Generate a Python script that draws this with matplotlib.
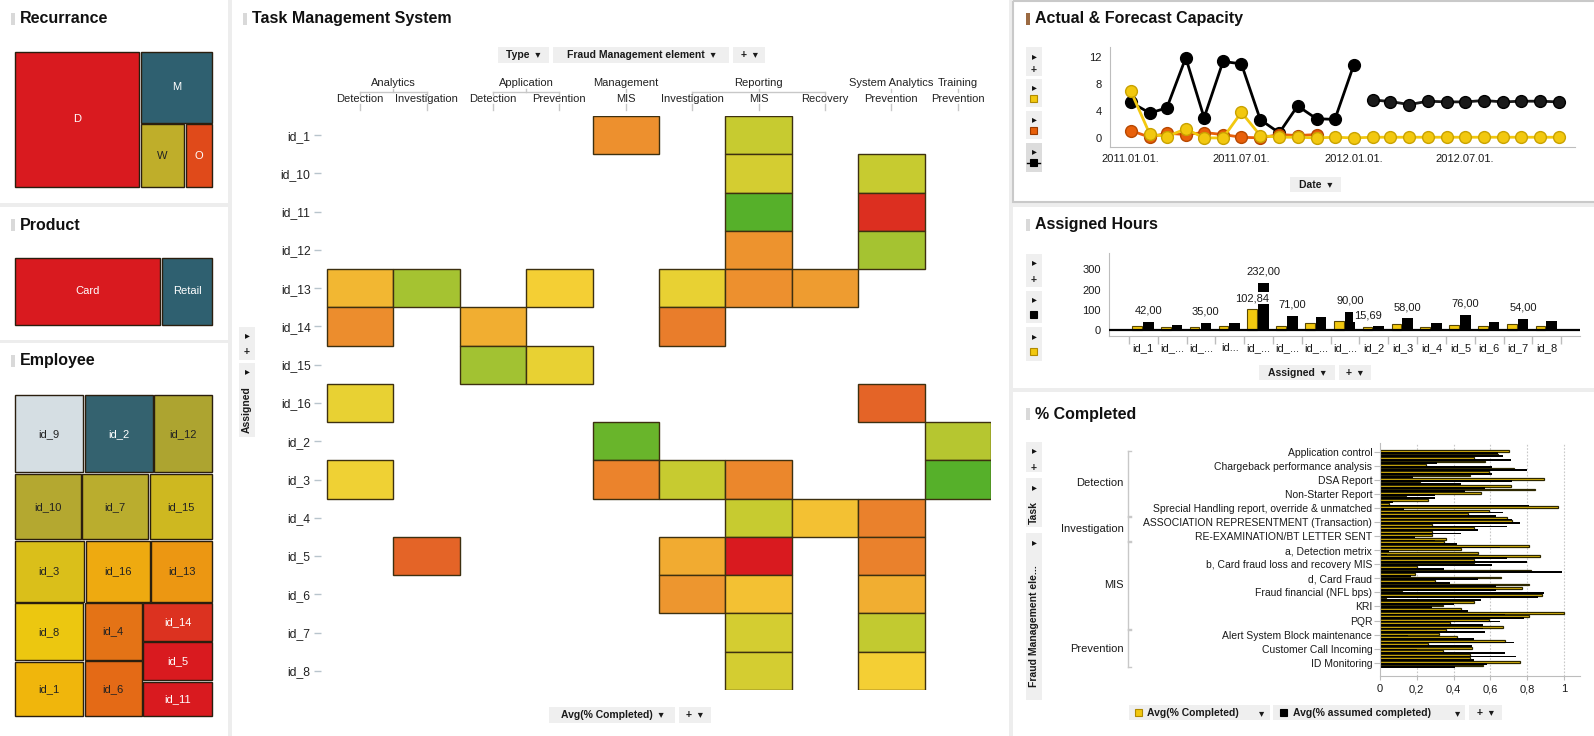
import numpy as np
import matplotlib
matplotlib.use('Agg')
import matplotlib.pyplot as plt
from matplotlib.patches import Rectangle
from matplotlib.colors import LinearSegmentedColormap
import matplotlib.transforms as mtransforms
import matplotlib.dates as mdates
from datetime import datetime

plt.rcParams['font.family'] = ['Liberation Sans', 'DejaVu Sans']

# ------------------------------------------------------------------ data
recur_labels = ['D', 'M', 'W', 'O']
recur_values = [17.0, 5.2, 2.85, 1.8]
recur_colors = ['#D91A1F', '#2F6070', '#BFAE2A', '#E04A1A']
recur_text = ['white', 'white', '#222222', 'white']

product_labels = ['Card', 'Retail']
product_values = [74, 26]
product_colors = ['#D91A1F', '#2F6070']
product_text = ['white', 'white']

employee_ids = ['id_9', 'id_2', 'id_12', 'id_10', 'id_7', 'id_15', 'id_3', 'id_16',
                'id_13', 'id_8', 'id_1', 'id_4', 'id_6', 'id_14', 'id_5', 'id_11']
employee_values = [54, 54, 46, 44, 44, 42, 43, 40, 38, 40, 38.5, 33, 32, 27, 27, 25]
employee_colors = ['#D5DEE3', '#34626F', '#ADA430', '#B4A830', '#BAAD2E', '#CEB820',
                   '#DABF1A', '#EEAA10', '#EC9712', '#ECC710', '#F0B60C', '#E47316',
                   '#E46A16', '#DC3220', '#D91A1F', '#D91A1F']
employee_text = ['#222222', 'white', '#222222', '#222222', '#222222', '#222222',
                 '#222222', '#222222', '#222222', '#222222', '#222222', '#222222',
                 '#222222', 'white', 'white', 'white']

# treemap nesting (h = split left-right, v = split top-bottom), by item index
recur_tree = ('h', [0, ('v', [1, ('h', [2, 3])])])
product_tree = ('h', [0, 1])
employee_tree = ('v', [('h', [0, 1, 2]), ('h', [3, 4, 5]), ('h', [6, 7, 8]),
                       ('h', [('v', [9, 10]), ('v', [11, 12]), ('v', [13, 14, 15])])])

hm_rows = ['id_1', 'id_10', 'id_11', 'id_12', 'id_13', 'id_14', 'id_15', 'id_16',
           'id_2', 'id_3', 'id_4', 'id_5', 'id_6', 'id_7', 'id_8']
hm_col_type = ['Analytics', 'Analytics', 'Application', 'Application', 'Management',
               'Reporting', 'Reporting', 'Reporting', 'System Analytics', 'Training']
hm_col_elem = ['Detection', 'Investigation', 'Detection', 'Prevention', 'MIS',
               'Investigation', 'MIS', 'Recovery', 'Prevention', 'Prevention']
N = None
hm_values = [
    [N, N, N, N, 0.34, N, 0.70, N, N, N],
    [N, N, N, N, N, N, 0.66, N, 0.70, N],
    [N, N, N, N, N, N, 0.98, N, 0.05, N],
    [N, N, N, N, N, N, 0.35, N, 0.82, N],
    [0.47, 0.82, N, 0.55, N, 0.60, 0.34, 0.38, N, N],
    [0.33, N, 0.44, N, N, 0.28, N, N, N, N],
    [N, N, 0.83, 0.60, N, N, N, N, N, N],
    [0.60, N, N, N, N, N, N, N, 0.20, N],
    [N, N, N, N, 0.93, N, N, N, N, 0.76],
    [0.58, N, N, N, 0.30, 0.70, 0.31, N, N, 0.98],
    [N, N, N, N, N, N, 0.70, 0.50, 0.29, N],
    [N, 0.20, N, N, N, 0.43, 0.0, N, 0.29, N],
    [N, N, N, N, N, 0.36, 0.50, N, 0.44, N],
    [N, N, N, N, N, N, 0.66, N, 0.72, N],
    [N, N, N, N, N, N, 0.66, N, 0.55, N],
]

cap_months = ['2011-01', '2011-02', '2011-03', '2011-04', '2011-05', '2011-06',
              '2011-07', '2011-08', '2011-09', '2011-10', '2011-11', '2011-12',
              '2012-01', '2012-02', '2012-03', '2012-04', '2012-05', '2012-06',
              '2012-07', '2012-08', '2012-09', '2012-10', '2012-11', '2012-12']
cap_actual = [5.3, 3.7, 4.45, 11.9, 3.0, 11.35, 11.0, 2.7, 0.75, 4.75, 2.85, 2.75,
              10.85, N, N, N, N, N, N, N, N, N, N, N]
cap_forecast = [N, N, N, N, N, N, N, N, N, N, N, N,
                N, 5.65, 5.4, 4.95, 5.45, 5.35, 5.35, 5.55, 5.35, 5.45, 5.45, 5.35]
cap_yellow = [6.95, 0.6, 0.2, 1.35, 0.0, 0.0, 3.8, 0.35, 0.1, 0.1, 0.0, 0.1,
              0.0, 0.1, 0.1, 0.1, 0.1, 0.1, 0.1, 0.1, 0.1, 0.1, 0.1, 0.1]
cap_orange = [1.1, 0.1, 0.7, 0.5, 0.8, 0.5, 0.1, 0.0, 0.5, 0.35, 0.5,
              N, N, N, N, N, N, N, N, N, N, N, N, N]

assigned_ids = ['id_1', 'id_10', 'id_11', 'id_12', 'id_13', 'id_14', 'id_15', 'id_16',
                'id_2', 'id_3', 'id_4', 'id_5', 'id_6', 'id_7', 'id_8']
assigned_ticklabels = ['id_1', 'id_...', 'id_...', 'id...', 'id_...', 'id_...', 'id_...',
                       'id_...', 'id_2', 'id_3', 'id_4', 'id_5', 'id_6', 'id_7', 'id_8']
hours_yellow = [20, 15, 15, 20, 102.84, 20, 35, 45, 15.69, 30, 15, 25, 20, 30, 20]
hours_black = [42, 25, 35, 35, 232, 71, 64, 90, 20, 58, 35, 76, 40, 54, 45]
hours_labels = [(0, 'black'), (2, 'black'), (4, 'yellow'), (4, 'black'), (5, 'black'),
                (7, 'black'), (8, 'yellow'), (9, 'black'), (11, 'black'), (13, 'black')]

pc_groups = ['Detection', 'Investigation', 'MIS', 'Prevention']
pc_group_sizes = [19, 7, 25, 11]
pc_tasks_shown = ['Application control', 'Chargeback performance analysis', 'DSA Report',
                  'Non-Starter Report', 'Sprecial Handling report, override & unmatched',
                  'ASSOCIATION REPRESENTMENT (Transaction)', 'RE-EXAMINATION/BT LETTER SENT',
                  'a, Detection metrix', 'b, Card fraud loss and recovery MIS', 'd, Card Fraud',
                  'Fraud financial (NFL bps)', 'KRI', 'PQR', 'Alert System Block maintenance',
                  'Customer Call Incoming', 'ID Monitoring']
pc_completed = [0.70, 0.64, 0.51, 0.57, 0.25, 0.73, 0.59, 0.49, 0.89, 0.22,
                0.71, 0.84, 0.55, 0.14, 0.26, 0.05, 0.97, 0.59, 0.48, 0.69,
                0.72, 0.28, 0.51, 0.28, 0.28, 0.36, 0.35, 0.81, 0.44, 0.53,
                0.87, 0.51, 0.51, 0.20, 0.82, 0.19, 0.66, 0.30, 0.81, 0.77,
                0.12, 0.88, 0.03, 0.51, 0.34, 0.44, 1.00, 0.81, 0.59, 0.38,
                0.67, 0.36, 0.32, 0.42, 0.68, 0.26, 0.50, 0.34, 0.49, 0.49,
                0.76, 0.56]
pc_assumed = [0.64, 0.67, 0.71, 0.31, 0.61, 0.80, 0.61, 0.18, 0.72, 0.44,
              0.57, 0.46, 0.30, 0.30, 0.07, 0.81, 0.13, 0.67, 0.63, 0.72,
              0.76, 0.69, 0.53, 0.44, 0.19, 0.30, 0.42, 0.65, 0.05, 0.04,
              0.69, 0.80, 0.61, 0.35, 0.99, 0.17, 0.53, 0.38, 0.63, 0.63,
              0.89, 0.86, 0.55, 0.40, 0.28, 0.48, 0.68, 0.78, 0.65, 0.56,
              0.56, 0.57, 0.15, 0.51, 0.73, 0.50, 0.20, 0.68, 0.74, 0.51,
              0.58, 0.41]

# ------------------------------------------------------------------ colours
YEL = '#F2C80F'
ORA = '#E8600A'
SEP = '#EDEDED'
BTN = '#EFEFEF'
TXT = '#1A1A1A'
AXC = '#BDBDBD'
hm_cmap = LinearSegmentedColormap.from_list('rag', [
    (0.00, '#D91A1F'), (0.05, '#DC3020'), (0.20, '#E46427'), (0.30, '#EB842C'),
    (0.38, '#EE9C30'), (0.46, '#F2B432'), (0.52, '#F3C633'), (0.56, '#F5D235'),
    (0.62, '#E2D032'), (0.68, '#CCCC30'), (0.72, '#C2CA30'), (0.78, '#B0C430'),
    (0.84, '#A0C232'), (0.93, '#6AB52B'), (1.00, '#4EAE2A')])

# ------------------------------------------------------------------ figure
W, H = 1594, 736
fig = plt.figure(figsize=(W / 100, H / 100), dpi=100)
fig.patch.set_facecolor('white')
bg = fig.add_axes([0, 0, 1, 1])
bg.set_xlim(0, W)
bg.set_ylim(H, 0)
bg.set_autoscale_on(False)
bg.axis('off')


def fax(x0, y0, x1, y1):
    a = fig.add_axes([x0 / W, 1 - y1 / H, (x1 - x0) / W, (y1 - y0) / H])
    a.set_facecolor('none')
    return a


def rect(x0, y0, x1, y1, fc, ec='none', lw=0, z=1):
    bg.add_patch(Rectangle((x0, y0), x1 - x0, y1 - y0, fc=fc, ec=ec, lw=lw, zorder=z))


def title(x, y, text, barcolor='#D9D9D9'):
    rect(x - 8.5, y - 6, x - 4.5, y + 6, barcolor, z=3)
    bg.text(x, y, text, fontsize=11.5, fontweight='bold', ha='left', va='center',
            color='#111111', zorder=3)


def button(x0, y0, x1, y1, text, fs=7.5):
    rect(x0, y0, x1, y1, BTN, z=2)
    bg.text((x0 + x1) / 2, (y0 + y1) / 2 + 0.5, text, fontsize=fs, fontweight='bold',
            ha='center', va='center', color=TXT, zorder=3)


def side_box(x0, y0, x1, y1, fc=BTN):
    rect(x0, y0, x1, y1, fc, z=2)


def tri(x, y):
    bg.text(x, y, '\u25b8', fontsize=7, ha='center', va='center', color='#111111', zorder=3)


def plus(x, y):
    bg.text(x, y, '+', fontsize=7.5, fontweight='bold', ha='center', va='center',
            color='#222222', zorder=3)


def swatch(x, y, color, ec, size=8):
    rect(x - size / 2, y - size / 2, x + size / 2, y + size / 2, color, ec=ec, lw=0.8, z=3)


# separators / panel frames
for (x0, y0, x1, y1) in [(228, 0, 232, 736), (0, 203, 228, 207), (0, 340, 228, 343),
                         (1009, 0, 1013, 736), (1013, 203, 1594, 207), (1013, 388, 1594, 392)]:
    rect(x0, y0, x1, y1, SEP, z=1)
bg.add_patch(Rectangle((1013.5, 1), 1575, 201, fc='none', ec='#C9C9C9', lw=1.5, zorder=2))

# titles
title(20, 18.5, 'Recurrance')
title(20, 225, 'Product')
title(20, 361, 'Employee')
title(252, 18.5, 'Task Management System')
title(1035, 18.5, 'Actual & Forecast Capacity', barcolor='#9B6A42')
title(1035, 225, 'Assigned Hours')
title(1035, 414, '% Completed')


# ------------------------------------------------------------------ treemaps
def node_sum(node, vals):
    if isinstance(node, int):
        return vals[node]
    return sum(node_sum(k, vals) for k in node[1])


def layout(node, vals, x, y, w, h, out):
    if isinstance(node, int):
        out[node] = (x, y, w, h)
        return
    orient, kids = node
    tot = node_sum(node, vals)
    pos = 0.0
    for k in kids:
        f = node_sum(k, vals) / tot
        if orient == 'h':
            layout(k, vals, x + pos * w, y, f * w, h, out)
        else:
            layout(k, vals, x, y + pos * h, w, f * h, out)
        pos += f


def treemap(box, tree, vals, labels, colors, tcolors, fs=8):
    x0, y0, x1, y1 = box
    ax = fax(x0, y0, x1, y1)
    ax.set_xlim(0, 1)
    ax.set_ylim(1, 0)
    ax.axis('off')
    rects = {}
    layout(tree, vals, 0, 0, 1, 1, rects)
    gx, gy = 1.6 / (x1 - x0), 1.6 / (y1 - y0)
    for i, (x, y, w, h) in rects.items():
        ax.add_patch(Rectangle((x + gx / 2, y + gy / 2), w - gx, h - gy, fc=colors[i],
                               ec='#2A1E0E', lw=1.0, clip_on=False))
        ax.text(x + w / 2, y + h / 2, labels[i], ha='center', va='center',
                color=tcolors[i], fontsize=fs)


treemap((14, 51, 213, 188), recur_tree, recur_values, recur_labels, recur_colors, recur_text)
treemap((14, 257, 213, 326), product_tree, product_values, product_labels, product_colors,
        product_text)
treemap((14, 394, 213, 717), employee_tree, employee_values, employee_ids, employee_colors,
        employee_text)

# ------------------------------------------------------------------ heatmap
ax_hm = fax(321, 116, 991, 690)
ax_hm.set_xlim(-0.09, 10)
ax_hm.set_ylim(len(hm_rows), 0)
for sp in ax_hm.spines.values():
    sp.set_visible(False)
ax_hm.set_xticks([])
ax_hm.set_yticks(np.arange(len(hm_rows)) + 0.5)
ax_hm.set_yticklabels(hm_rows)
ax_hm.tick_params(axis='y', length=5, width=1, color='#B8C4CC', pad=2.5, labelsize=8.7,
                  labelcolor='#222222')
for r, row in enumerate(hm_values):
    for c, v in enumerate(row):
        if v is None:
            continue
        ax_hm.add_patch(Rectangle((c, r), 1, 1, fc=hm_cmap(v), ec='#3D3010', lw=1.0))

trh = mtransforms.blended_transform_factory(ax_hm.transData, bg.transData)
LC = '#C8C8C8'
for c, name in enumerate(hm_col_elem):
    bg.text(c + 0.5, 99, name, transform=trh, ha='center', va='center', fontsize=8,
            color='#222222')
    bg.plot([c + 0.5, c + 0.5], [104, 110], transform=trh, color=LC, lw=1)
groups = []
start = 0
for i in range(1, len(hm_col_type) + 1):
    if i == len(hm_col_type) or hm_col_type[i] != hm_col_type[start]:
        groups.append((hm_col_type[start], start, i - 1))
        start = i
for name, a, b in groups:
    xc = (a + b) / 2 + 0.5
    bg.text(xc, 83, name, transform=trh, ha='center', va='center', fontsize=8,
            color='#222222')
    if b > a:
        bg.plot([a + 0.5, b + 0.5], [92, 92], transform=trh, color=LC, lw=1)
        bg.plot([a + 0.5, a + 0.5], [92, 95], transform=trh, color=LC, lw=1)
        bg.plot([b + 0.5, b + 0.5], [92, 95], transform=trh, color=LC, lw=1)
    bg.plot([xc, xc], [89, 92], transform=trh, color=LC, lw=1)

button(498, 47, 549.5, 63, 'Type  \u25be')
button(553, 47, 729, 63, 'Fraud Management element  \u25be')
button(733, 47, 765.5, 63, '+  \u25be')
button(549, 707, 675.5, 723, 'Avg(% Completed)  \u25be')
button(679, 707, 711, 723, '+  \u25be')
side_box(239, 327, 255, 360)
tri(247, 335)
plus(247, 352.5)
side_box(239, 363, 255, 437)
tri(247, 371)
bg.text(247, 410, 'Assigned', rotation=90, fontsize=7.5, fontweight='bold', ha='center',
        va='center', color=TXT, zorder=3)

# ------------------------------------------------------------------ capacity lines
ax_cap = fax(1110, 47, 1575, 147)
dates = [datetime.strptime(m, '%Y-%m') for m in cap_months]


def arr(lst):
    return np.array([np.nan if v is None else v for v in lst], dtype=float)


ax_cap.plot(dates, arr(cap_actual), '-o', color='black', lw=2, ms=8.5, mec='black', zorder=3)
ax_cap.plot(dates, arr(cap_forecast), '-o', color='#1A1A1A', lw=2, ms=8.5, mec='black',
            zorder=3)
ax_cap.plot(dates, arr(cap_orange), '-o', color=ORA, lw=2, ms=8.5, mec='#B84800', zorder=4)
ax_cap.plot(dates, arr(cap_yellow), '-o', color=YEL, lw=2, ms=8.5, mec='#C9A200', zorder=5)
ax_cap.set_xlim(datetime(2010, 11, 28), datetime(2012, 12, 28))
ax_cap.set_ylim(-1.35, 13.5)
ax_cap.set_yticks([0, 4, 8, 12])
ax_cap.set_xticks([datetime(2011, 1, 1), datetime(2011, 7, 1), datetime(2012, 1, 1),
                   datetime(2012, 7, 1)])
ax_cap.xaxis.set_major_formatter(mdates.DateFormatter('%Y.%m.%d.'))
for s in ['top', 'right']:
    ax_cap.spines[s].set_visible(False)
for s in ['left', 'bottom']:
    ax_cap.spines[s].set_color(AXC)
ax_cap.tick_params(axis='y', length=0, pad=6, labelsize=8, labelcolor=TXT)
ax_cap.tick_params(axis='x', length=0, pad=5, labelsize=8, labelcolor=TXT)

button(1290.5, 177, 1341, 192, 'Date  \u25be')
side_box(1026.5, 47, 1041.7, 76)
tri(1034.5, 56)
plus(1034, 70.5)
side_box(1026.5, 79, 1041.7, 107)
tri(1034.5, 87.5)
swatch(1033.5, 98.5, YEL, '#B08A00', 7)
side_box(1026.5, 111, 1041.7, 139)
tri(1034.5, 119.5)
swatch(1033.5, 130.5, ORA, '#9A3A00', 7)
side_box(1026.5, 143, 1041.7, 172, fc='#DCDCDC')
tri(1034.5, 151.5)
bg.plot([1027.5, 1040.5], [162.5, 162.5], color='black', lw=1, zorder=3)
swatch(1033.5, 162.5, 'black', 'black', 7)

# ------------------------------------------------------------------ assigned hours bars
ax_ah = fax(1109, 253, 1580, 336)
xpos = np.arange(len(assigned_ids))
ax_ah.bar(xpos - 0.22, hours_yellow, width=0.335, color=YEL, edgecolor='#5A4800', lw=0.8,
          zorder=2)
ax_ah.bar(xpos + 0.17, hours_black, width=0.37, color='black', zorder=2)
ax_ah.axhline(0, color='black', lw=1.6, zorder=3)
ax_ah.set_xlim(-1.19, 15.15)
ax_ah.set_ylim(-29.6, 380.6)
ax_ah.set_yticks([0, 100, 200, 300])
ax_ah.set_xticks(xpos)
ax_ah.set_xticklabels(assigned_ticklabels)
ax_ah.set_xticks(np.arange(len(assigned_ids) + 1) - 0.5, minor=True)
for s in ['top', 'right']:
    ax_ah.spines[s].set_visible(False)
for s in ['left', 'bottom']:
    ax_ah.spines[s].set_color(AXC)
ax_ah.tick_params(axis='y', length=0, pad=6, labelsize=8, labelcolor=TXT)
ax_ah.tick_params(axis='x', which='major', length=0, pad=5, labelsize=8, labelcolor=TXT)
ax_ah.tick_params(axis='x', which='minor', length=6, color=AXC, width=1)
for i, series in hours_labels:
    if series == 'black':
        xv, yv = i + 0.17, hours_black[i]
    else:
        xv, yv = i - 0.22, hours_yellow[i]
    txt = ('%.2f' % yv).replace('.', ',')
    ax_ah.annotate(txt, (xv, yv), xytext=(0, 8), textcoords='offset points', ha='center',
                   va='center', fontsize=8, color=TXT, zorder=5,
                   bbox=dict(fc='white', ec='none', pad=0.8))

button(1258.7, 365, 1335, 380, 'Assigned  \u25be')
button(1339, 365, 1371, 380, '+  \u25be')
side_box(1026.5, 254, 1041.7, 287)
tri(1034.5, 262.5)
plus(1034, 280)
side_box(1026.5, 291, 1041.7, 323)
tri(1034.5, 299)
swatch(1033.5, 314, 'black', 'black', 7)
side_box(1026.5, 327, 1041.7, 361)
tri(1034.5, 336)
swatch(1033.5, 351, YEL, '#B08A00', 7)

# ------------------------------------------------------------------ % completed bars
ax_pc = fax(1380, 443, 1580, 676)
ypos = np.arange(len(pc_completed))
ax_pc.barh(ypos - 0.25, pc_completed, height=0.5, color=YEL, edgecolor='#2E2800', lw=0.9,
           zorder=2)
ax_pc.barh(ypos + 0.25, pc_assumed, height=0.5, color='black', zorder=2)
ax_pc.set_xlim(0, 1.087)
ax_pc.set_ylim(63.77, -2.49)
for gx in [0.2, 0.4, 0.6, 0.8, 1.0]:
    ax_pc.axvline(gx, color='#C8C8C8', lw=0.8, ls=(0, (1.5, 1.5)), zorder=1)
ax_pc.set_xticks([0, 0.2, 0.4, 0.6, 0.8, 1.0])
ax_pc.set_xticklabels(['0', '0,2', '0,4', '0,6', '0,8', '1'])
step = 4
ax_pc.set_yticks(np.arange(len(pc_tasks_shown)) * step)
ax_pc.set_yticklabels(pc_tasks_shown)
for s in ['top', 'right']:
    ax_pc.spines[s].set_visible(False)
for s in ['left', 'bottom']:
    ax_pc.spines[s].set_color(AXC)
ax_pc.tick_params(axis='y', length=4, color=AXC, pad=1.5, labelsize=7.5, labelcolor=TXT)
ax_pc.tick_params(axis='x', length=3, color=AXC, pad=3, labelsize=8, labelcolor=TXT)

trp = mtransforms.blended_transform_factory(bg.transData, ax_pc.transData)
first = 0
for gname, gsize in zip(pc_groups, pc_group_sizes):
    a, b = first - 0.35, first + gsize - 0.65
    bg.plot([1127.7, 1127.7], [a, b], transform=trp, color=LC, lw=1)
    bg.plot([1127.7, 1131], [a, a], transform=trp, color=LC, lw=1)
    bg.plot([1127.7, 1131], [b, b], transform=trp, color=LC, lw=1)
    bg.text(1124, first + (gsize - 1) / 2, gname, transform=trp, ha='right', va='center',
            fontsize=8, color=TXT)
    first += gsize

side_box(1026.5, 442, 1041.7, 472)
tri(1034.5, 450)
plus(1034, 467.5)
side_box(1026.5, 478, 1041.7, 527)
tri(1034.5, 487)
bg.text(1034, 512, 'Task', rotation=90, fontsize=7.5, fontweight='bold', ha='center',
        va='center', color=TXT, zorder=3)
side_box(1026.5, 533, 1041.7, 700)
tri(1034.5, 542)
bg.text(1034, 626, 'Fraud Management ele...', rotation=90, fontsize=7.5, fontweight='bold',
        ha='center', va='center', color=TXT, zorder=3)

rect(1128.8, 705, 1269.7, 720, BTN, z=2)
swatch(1139, 712.5, YEL, '#B08A00', 7)
bg.text(1147.5, 713, 'Avg(% Completed)', fontsize=7.5, fontweight='bold', ha='left',
        va='center', color=TXT, zorder=3)
bg.text(1262, 713, '\u25be', fontsize=7.5, ha='center', va='center', color=TXT, zorder=3)
rect(1272.7, 705, 1465, 720, BTN, z=2)
swatch(1283.3, 712.5, 'black', 'black', 7)
bg.text(1293.5, 713, 'Avg(% assumed completed)', fontsize=7.5, fontweight='bold', ha='left',
        va='center', color=TXT, zorder=3)
bg.text(1458, 713, '\u25be', fontsize=7.5, ha='center', va='center', color=TXT, zorder=3)
button(1469, 705, 1502, 720, '+  \u25be')

bg.set_xlim(0, W)
bg.set_ylim(H, 0)
fig.savefig('out.png', dpi=100)
